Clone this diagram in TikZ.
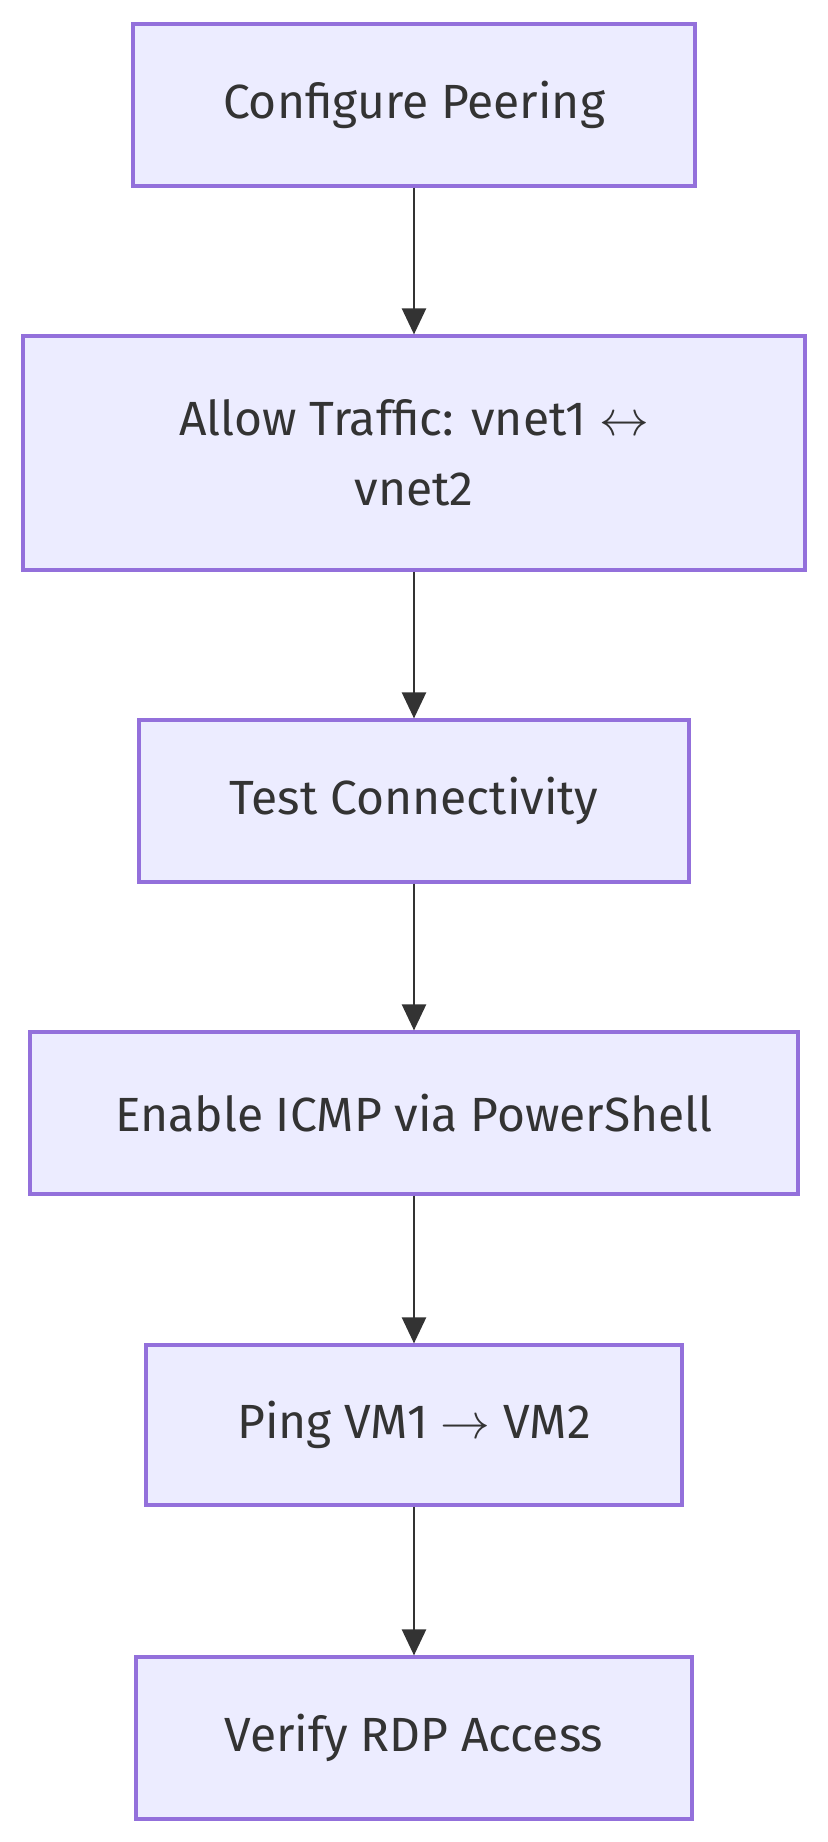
\documentclass[tikz,border=0pt]{standalone}
\usepackage{fontspec}
\setmainfont{Fira Sans}
\usetikzlibrary{arrows.meta}
\definecolor{boxfill}{HTML}{ECECFF}
\definecolor{boxline}{HTML}{9370DB}
\definecolor{linkcol}{HTML}{333333}
\tikzset{
  stepbox/.style={draw=boxline, fill=boxfill, line width=1.6pt, inner sep=0pt,
    align=center, text=linkcol, font=\fontsize{24}{35}\selectfont},
  link/.style={draw=linkcol, line width=1.2pt, -{Triangle[length=13pt,width=12pt]}}
}
\begin{document}
\begin{tikzpicture}[x=0.5pt,y=-0.5pt]
            \useasboundingbox (0,0) rectangle (828,1842);
            % steps
            \node[stepbox, minimum width=281pt, minimum height=81pt] (peer) at (414,105) {Configure Peering};
            \node[stepbox, minimum width=391pt, minimum height=117pt] (allow) at (414,453) {Allow Traffic: vnet1 $\leftrightarrow$\\vnet2};
            \node[stepbox, minimum width=275pt, minimum height=81pt] (test) at (414,801) {Test Connectivity};
            \node[stepbox, minimum width=384pt, minimum height=81pt] (icmp) at (414,1113) {Enable ICMP via PowerShell};
            \node[stepbox, minimum width=268pt, minimum height=80pt] (ping) at (414,1425) {Ping VM1 $\rightarrow$ VM2};
            \node[stepbox, minimum width=278pt, minimum height=81pt] (rdp) at (414,1738) {Verify RDP Access};
            % links
            \draw[link] (peer) -- (allow);
            \draw[link] (allow) -- (test);
            \draw[link] (test) -- (icmp);
            \draw[link] (icmp) -- (ping);
            \draw[link] (ping) -- (rdp);
          \end{tikzpicture}
\end{document}
